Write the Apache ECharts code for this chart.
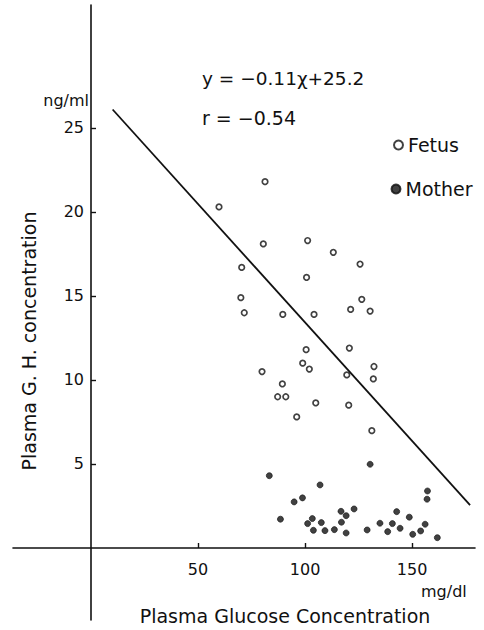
<!DOCTYPE html>
<html>
<head>
<meta charset="utf-8">
<script src="https://cdn.jsdelivr.net/npm/echarts@6/dist/echarts.min.js"></script>
<style>
html,body{margin:0;padding:0;background:#fff;}
#chart{width:484px;height:630px;}
</style>
</head>
<body>
<div id="chart"></div>
<script>
// Plasma glucose (mg/dl) vs plasma G.H. (ng/ml)
const fetusGlucose = [59.8, 81.3, 80.5, 101.2, 113.2, 70.4, 100.7, 125.7, 70.0, 71.6, 89.6, 104.2, 126.5, 121.3, 130.4, 100.5, 120.7, 98.9, 102.0, 79.9, 132.2, 119.5, 131.9, 89.4, 87.2, 91.0, 105.0, 120.4, 96.1, 131.2];
const fetusGH = [20.3, 21.8, 18.1, 18.3, 17.6, 16.7, 16.1, 16.9, 14.9, 14.0, 13.9, 13.9, 14.8, 14.2, 14.1, 11.8, 11.9, 11.0, 10.65, 10.5, 10.8, 10.3, 10.06, 9.76, 9.0, 9.0, 8.63, 8.5, 7.8, 6.98];
const motherGlucose = [83.3, 107.0, 94.9, 98.8, 130.4, 88.5, 101.2, 103.4, 107.6, 103.9, 109.3, 113.7, 116.8, 119.2, 117.0, 122.9, 119.2, 129.0, 135.0, 142.8, 148.7, 140.8, 138.6, 144.4, 150.3, 154.0, 156.1, 157.2, 157.0, 161.8];
const motherGH = [4.30, 3.75, 2.74, 2.98, 4.98, 1.71, 1.45, 1.75, 1.51, 1.05, 1.03, 1.09, 2.18, 1.92, 1.53, 2.32, 0.89, 1.07, 1.47, 2.16, 1.83, 1.45, 0.97, 1.17, 0.81, 1.01, 1.41, 3.39, 2.90, 0.61];
// regression line as drawn (end points)
const lineX = [10.1, 177.1];
const lineY = [26.1, 2.55];
const xTicks = [50, 100, 150];
const yTicks = [5, 10, 15, 20, 25];
const seriesNames = ['Fetus', 'Mother'];
const equationText = 'y = −0.11χ+25.2';
const rText = 'r = −0.54';

const zip = (a, b) => a.map((v, i) => [v, b[i]]);
const FONT = '"DejaVu Sans", sans-serif';

const chart = echarts.init(document.getElementById('chart'), null, {renderer: 'svg'});
chart.setOption({
  backgroundColor: '#fff',
  animation: false,
  grid: {left: 13, right: 9, top: 5, bottom: 10, containLabel: false, outerBoundsMode: 'none'},
  xAxis: {
    type: 'value', min: -36.45, max: 179.4, position: 'bottom', offset: -72,
    splitLine: {show: false},
    axisLine: {onZero: false, lineStyle: {color: '#111', width: 1.6}},
    axisTick: {inside: true, length: 5, customValues: xTicks, lineStyle: {color: '#111', width: 1.4}},
    axisLabel: {customValues: xTicks, margin: 13, color: '#111', fontSize: 16, fontFamily: FONT}
  },
  yAxis: {
    type: 'value', min: -4.29, max: 32.32, position: 'left', offset: -78,
    splitLine: {show: false},
    axisLine: {onZero: false, lineStyle: {color: '#111', width: 1.6}},
    axisTick: {inside: true, length: 5, customValues: yTicks, lineStyle: {color: '#111', width: 1.4}},
    axisLabel: {customValues: yTicks, margin: 7, color: '#111', fontSize: 16, fontFamily: FONT}
  },
  legend: [
    {data: [seriesNames[0]], left: 393, top: 135, padding: 0, itemWidth: 9, itemHeight: 9, itemGap: 5,
     textStyle: {fontSize: 19, fontFamily: FONT, color: '#111', lineHeight: 20}},
    {data: [seriesNames[1]], left: 390.5, top: 179, padding: 0, itemWidth: 9, itemHeight: 9, itemGap: 5,
     textStyle: {fontSize: 19, fontFamily: FONT, color: '#111', lineHeight: 20}}
  ],
  graphic: [
    {type: 'text', x: 89, y: 100, style: {text: 'ng/ml', font: '16px ' + FONT, fill: '#111', textAlign: 'right', textVerticalAlign: 'middle'}},
    {type: 'text', x: 421, y: 591, style: {text: 'mg/dl', font: '16px ' + FONT, fill: '#111', textAlign: 'left', textVerticalAlign: 'middle'}},
    {type: 'text', x: 285, y: 616, style: {text: 'Plasma Glucose Concentration', font: '19px ' + FONT, fill: '#111', textAlign: 'center', textVerticalAlign: 'middle'}},
    {type: 'text', x: 29, y: 341, rotation: Math.PI / 2, style: {text: 'Plasma G. H. concentration', font: '19px ' + FONT, fill: '#111', textAlign: 'center', textVerticalAlign: 'middle'}},
    {type: 'text', x: 202, y: 78, style: {text: equationText, font: '18.5px ' + FONT, fill: '#111', textAlign: 'left', textVerticalAlign: 'middle'}},
    {type: 'text', x: 202, y: 118, style: {text: rText, font: '19px ' + FONT, fill: '#111', textAlign: 'left', textVerticalAlign: 'middle'}}
  ],
  series: [
    {name: seriesNames[0], type: 'scatter', data: zip(fetusGlucose, fetusGH), symbol: 'circle', symbolSize: 5.5,
     itemStyle: {color: '#fff', borderColor: '#111', borderWidth: 1.7}},
    {name: seriesNames[1], type: 'scatter', data: zip(motherGlucose, motherGH), symbol: 'circle', symbolSize: 6,
     itemStyle: {color: '#111', borderColor: '#111', borderWidth: 0.8}},
    {name: 'regression', type: 'line', data: zip(lineX, lineY), symbol: 'none', silent: true,
     lineStyle: {color: '#111', width: 1.8}}
  ]
});
</script>
</body>
</html>
